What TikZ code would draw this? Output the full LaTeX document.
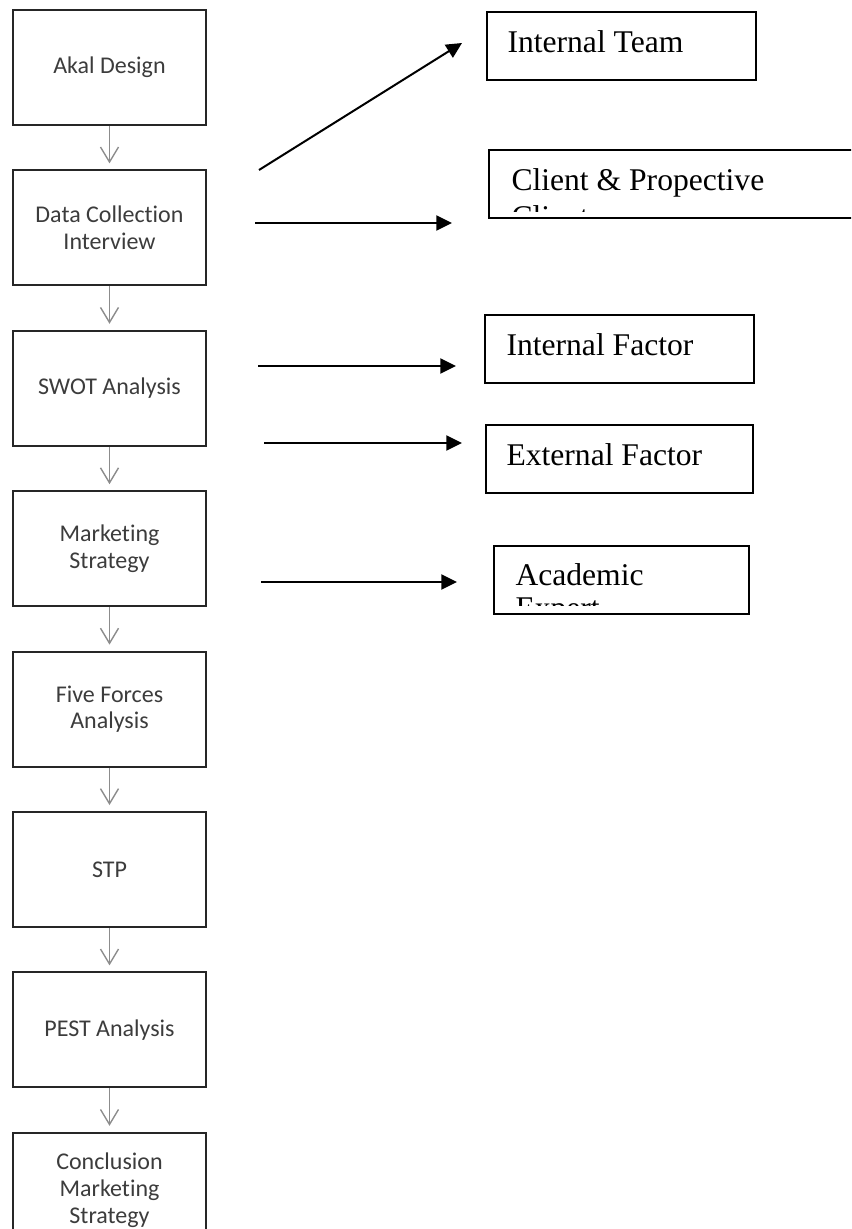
\documentclass[tikz,border=0pt]{standalone}
\usepackage{fontspec}
\setmainfont{Liberation Serif}
\newfontfamily\calibri[Ligatures=NoCommon]{Carlito}
\usepackage{tikz}
\usetikzlibrary{positioning}
\usetikzlibrary{arrows.meta}
\definecolor{flowgray}{HTML}{8C8C8C}
\definecolor{flowtext}{HTML}{3C3C3C}
\tikzstyle{flowbox} = [draw=black!85,line width=1pt,minimum width=96.5pt,minimum height=57.5pt,align=center,text=flowtext,font=\calibri\fontsize{12}{13.3}\selectfont]
\tikzstyle{flowline} = [draw=flowgray,line width=0.7pt,-{Straight Barb[length=7.5pt,width=9pt]},shorten >=3pt]
\tikzstyle{sidebox} = [draw,line width=0.9pt,minimum height=34pt]
\tikzstyle{sidetext} = [anchor=base west,inner sep=0pt,font=\fontsize{15.8}{18.5}\selectfont]
\tikzstyle{arrow} = [line width=1pt,-{Triangle[length=7.8pt,width=7.5pt]}]

\begin{document}
\begin{tikzpicture}[x=0.5pt,y=-0.5pt]
	\useasboundingbox (0,0) rectangle (851,1229);
	\clip (0,0) rectangle (851,1229);
	% main column
	\node[flowbox] (akal) at (109.5,67.5) {Akal Design};
	\node[flowbox,below=21.7pt of akal] (data) {Data Collection\\Interview};
	\node[flowbox,below=21.7pt of data] (swot) {SWOT Analysis};
	\node[flowbox,below=21.7pt of swot] (mkt) {Marketing\\Strategy};
	\node[flowbox,below=21.7pt of mkt] (five) {Five Forces\\Analysis};
	\node[flowbox,below=21.7pt of five] (stp) {STP};
	\node[flowbox,below=21.7pt of stp] (pest) {PEST Analysis};
	\node[flowbox,below=21.7pt of pest] (concl) {Conclusion\\Marketing\\Strategy};
	\foreach \a/\b in {akal/data,data/swot,swot/mkt,mkt/five,five/stp,stp/pest,pest/concl}
		\draw[flowline] (\a) -- (\b);
	% side boxes
	\node[sidebox,minimum width=134.5pt] (team) at (621.5,46) {};
	\node[sidebox,minimum width=195.5pt] (client) at (684.5,184) {};
	\node[sidebox,minimum width=134.5pt] (intf) at (619.5,349) {};
	\node[sidebox,minimum width=133.5pt] (extf) at (619.5,459) {};
	\node[sidebox,minimum width=127.5pt] (acad) at (621.5,580) {};
	\node[sidetext] (team text) at ([shift={(10.5pt,-20.5pt)}]team.north west) {Internal Team};
	\node[sidetext] (intf text) at ([shift={(11pt,-20.5pt)}]intf.north west) {Internal Factor};
	\node[sidetext] (extf text) at ([shift={(10.5pt,-20.5pt)}]extf.north west) {External Factor};
	\begin{scope}
		\clip (client.north west) rectangle ([yshift=3.5pt]client.south east);
		\node[sidetext] (client text) at ([shift={(11.5pt,-20.5pt)}]client.north west) {\vtop{\hbox{Client \& Propective}\hbox{Client}}};
	\end{scope}
	\begin{scope}
		\clip (acad.north west) rectangle ([yshift=4.5pt]acad.south east);
		\node[sidetext,font=\fontsize{15.8}{16.5}\selectfont] (acad text) at ([shift={(11pt,-20pt)}]acad.north west) {\vtop{\hbox{Academic}\hbox{Expert}}};
	\end{scope}
	% arrows
	\coordinate (a1) at (259,170);
	\coordinate (b1) at (462,43);
	\coordinate (a2) at (255,223);
	\coordinate (b2) at (452,223);
	\coordinate (a3) at (258,366);
	\coordinate (b3) at (456,366);
	\coordinate (a4) at (264,443);
	\coordinate (b4) at (462,443);
	\coordinate (a5) at (261,582);
	\coordinate (b5) at (457,582);
	\foreach \i in {1,...,5}
		\draw[arrow] (a\i) -- (b\i);
\end{tikzpicture}
\end{document}
